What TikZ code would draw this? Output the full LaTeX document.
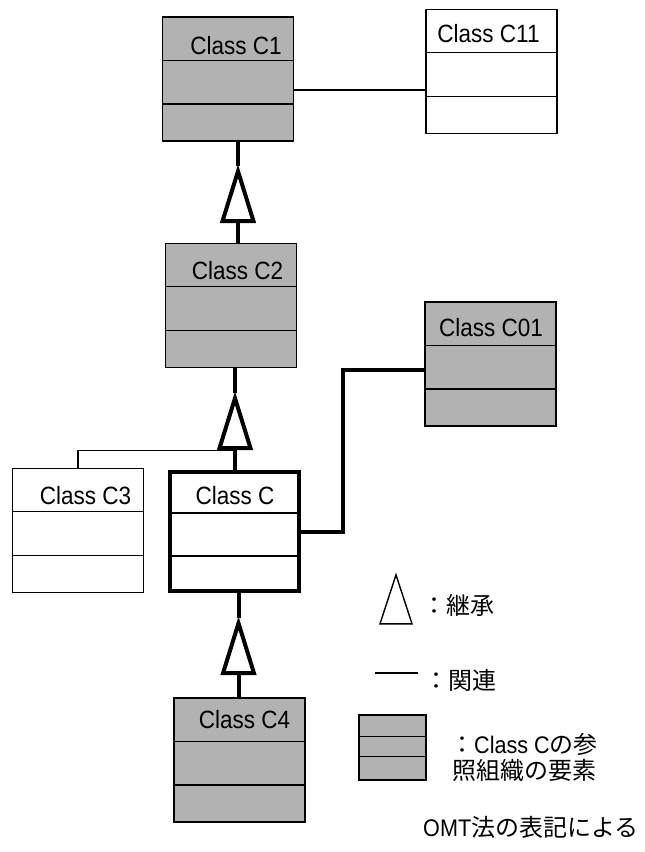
\documentclass[tikz,border=0pt]{standalone}
\usepackage{fontspec}
\setmainfont{Liberation Sans}[FakeStretch=0.9]
\newfontfamily\jp{Noto Sans CJK JP}
\usetikzlibrary{shapes}
\usetikzlibrary{calc}
\usetikzlibrary{positioning}
\tikzset{
    cls/.style = {rectangle, draw=black, line width=1.5bp, minimum width=131bp, minimum height=124bp, inner sep=0, fill=white},
    clsg/.style = {cls, fill=black!30},
    clsb/.style = {cls, line width=4bp, minimum width=129bp, minimum height=119bp},
    ctitle/.style = {inner sep=0, font=\fontsize{25bp}{26bp}\selectfont},
    legtext/.style = {inner sep=0, font=\fontsize{24bp}{25.5bp}\selectfont},
    divider/.style = {line width=1.3bp},
    assoc/.style = {line width=1.3bp},
    assocb/.style = {line width=4bp},
    inh/.style = {line width=4bp},
    triangle/.style = {isosceles triangle, isosceles triangle stretches, draw, shape border rotate=90,
        minimum height=50bp, minimum width=31bp, inner sep=0, fill=white, line width=4bp, anchor=apex},
}

\begin{document}
\begin{tikzpicture}[x=1bp,y=-1bp]
\useasboundingbox (0,0) rectangle (645,852);
% classes
\node[clsg] at (228.0, 79.0) (c1) {};
\node[cls] at (491.5, 71.5) (c11) {};
\node[clsg] at (231.0, 305.5) (c2) {};
\node[clsg] at (490.5, 364.0) (c01) {};
\node[cls] at (78.0, 530.5) (c3) {};
\node[clsb] at (234.5, 531.5) (c) {};
\node[clsg] at (239.5, 760.0) (c4) {};
\foreach \n in {c1,c11,c2,c01,c3,c,c4}
  \foreach \f in {0.35,0.70}
    \draw[divider] ($(\n.north west)!\f!(\n.south west)$) -- ($(\n.north east)!\f!(\n.south east)$);
%
\node[ctitle] at (236.0, 45.5) (c1t) {Class C1};
\node[ctitle] at (488.5, 34.0) (c11t) {Class C11};
\node[ctitle] at (237.5, 271.0) (c2t) {Class C2};
\node[ctitle] at (491.0, 328.0) (c01t) {Class C01};
\node[ctitle] at (85.5, 496.0) (c3t) {Class C3};
\node[ctitle] at (235.0, 496.0) (ct) {Class C};
\node[ctitle] at (244.5, 719.5) (c4t) {Class C4};
% inheritance
\node[triangle] at (238.0, 166.0) (t1) {};
\node[triangle] at (235.0, 393.0) (t2) {};
\node[triangle] at (238.5, 618.0) (t3) {};
\draw[inh] (t1.apex) -- (t1.apex |- c1.south);
\draw[inh] (t1.lower side) -- (t1.lower side |- c2.north);
\draw[inh] (t2.apex) -- (t2.apex |- c2.south);
\draw[inh] (t2.lower side) -- (t2.lower side |- c.north);
\draw[inh] (t3.apex) -- (t3.apex |- c.south);
\draw[inh] (t3.lower side) -- (t3.lower side |- c4.north);
% associations
\coordinate (c11in) at ($(c11.west)+(0,18.5)$);
\coordinate (c01in) at ($(c01.west)+(0,6)$);
\draw[assoc] (c11in -| c1.east) -- (c11in);
\draw[assoc] (c3.north) |- (t2.lower side);
\draw[assocb] (c.east) -- ++(42,0) |- (c01in);
% key
\node[triangle, line width=1.4bp, minimum height=49bp, minimum width=32bp] at (396.0, 573.0) (kt) {};
\node[legtext, anchor=west] at (422.0, 605.0) (kinh) {\jp ：継承};
\draw[assoc] (375,673) -- (418,673);
\node[legtext, anchor=west] at (424.0, 680.0) (kassoc) {\jp ：関連};
\node[clsg, minimum width=67bp, minimum height=65bp] at (392.5, 747.5) (kref) {};
\foreach \f in {0.33,0.64}
  \draw[divider] ($(kref.north west)!\f!(kref.south west)$) -- ($(kref.north east)!\f!(kref.south east)$);
\node[legtext, align=center] at (524.0, 757.5) (kreft) {{\jp ：}Class C{\jp の参}\\{\jp 照組織の要素}};
\node[legtext, anchor=west] at (423.0, 827.0) (omt) {OMT{\jp 法の表記による}};
\end{tikzpicture}
\end{document}
